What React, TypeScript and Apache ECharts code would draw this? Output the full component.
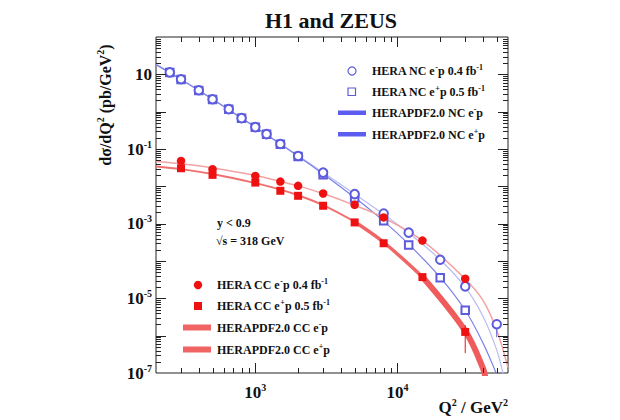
import React, { useEffect, useRef } from 'react';
import * as echarts from 'echarts';

// ---- data: NC (neutral current) measurements ----
const ncEmQ2 = [250, 300, 400, 500, 650, 800, 1000, 1200, 1500, 2000, 3000, 5000, 8000, 12000, 20000, 30000, 50000];
const ncEmValues = [11.3, 7.36, 3.74, 2.15, 1.17, 0.671, 0.386, 0.251, 0.136, 0.065, 0.0233, 0.0062, 0.00188, 5.75e-4, 1.08e-4, 2.09e-5, 2.03e-6];
const ncEpQ2 = [250, 300, 400, 500, 650, 800, 1000, 1200, 1500, 2000, 3000, 5000, 8000, 12000, 20000, 30000];
const ncEpValues = [11.2, 7.3, 3.7, 2.13, 1.16, 0.665, 0.382, 0.248, 0.134, 0.063, 0.0203, 0.00484, 0.0012, 2.7e-4, 3.56e-5, 4.8e-6];

// ---- data: CC (charged current) measurements ----
const ccQ2 = [300, 500, 1000, 1500, 2000, 3000, 5000, 8000, 15000, 30000];
const ccEmValues = [0.0479, 0.0288, 0.019, 0.0134, 0.0103, 0.00643, 0.00321, 0.00147, 3.52e-4, 3.35e-5];
const ccEpValues = [0.0305, 0.0203, 0.0126, 0.0076, 0.00558, 0.00302, 0.00108, 2.99e-4, 3.7e-5, 1.26e-6];

// error bars [Q2, low, high]
const ncEmErrors = [[50000, 9.1e-7, 2.75e-6]];
const ccEpErrors = [[30000, 3.4e-7, 1.9e-6]];

// ---- HERAPDF2.0 predictions ----
const ncEmCurveQ2 = [200, 300, 500, 1000, 2000, 3000, 5000, 8000, 12000, 20000, 30000, 40000, 50000, 56000];
const ncEmCurve = [18.5, 7.4, 2.2, 0.39, 0.066, 0.0235, 0.0062, 0.0018, 5.6e-4, 1.08e-4, 2.0e-5, 3.3e-6, 4.1e-7, 8e-8];
const ncEpCurveQ2 = [200, 300, 500, 1000, 2000, 3000, 5000, 8000, 12000, 20000, 30000, 40000, 50000];
const ncEpCurve = [18.2, 7.3, 2.15, 0.38, 0.064, 0.0215, 0.005, 0.00117, 2.82e-4, 3.65e-5, 4.8e-6, 6.4e-7, 9.1e-8];
const ccEmCurveQ2 = [200, 300, 500, 1000, 1500, 2000, 3000, 5000, 8000, 15000, 30000, 40000, 50000, 60000];
const ccEmCurve = [0.046, 0.04, 0.031, 0.0195, 0.0135, 0.0103, 0.0064, 0.0031, 0.00145, 3.5e-4, 3.3e-5, 8.8e-6, 1.4e-6, 1.4e-7];
const ccEpCurveQ2 = [200, 300, 500, 1000, 1500, 2000, 3000, 5000, 8000, 15000, 30000, 40000, 42000];
const ccEpCurve = [0.034, 0.0289, 0.0213, 0.0122, 0.00815, 0.00577, 0.00314, 0.00113, 3.18e-4, 3.75e-5, 1.34e-6, 1.34e-7, 6e-8];

// ---- axis ticks ----
const tickMultipliers = [2, 3, 4, 5, 6, 7, 8, 9];
const xDecades = [100, 1000, 10000];
const xMajorTicks = [1000, 10000];
const yDecades = [1e-7, 1e-6, 1e-5, 1e-4, 1e-3, 1e-2, 1e-1, 1, 10];
const yMajorTicks = [1e-6, 1e-5, 1e-4, 1e-3, 1e-2, 1e-1, 1, 10];

const X_MIN = 200;
const X_MAX = 60000;
const Y_MIN = 1e-7;
const Y_MAX = 100;

const FONT = "'Liberation Serif', 'Times New Roman', serif";
const BLUE = '#5c5cdc';
const RED = '#ee1111';

const pairs = (xs: number[], ys: number[]) => xs.map((x, i) => [x, ys[i]]);

export default function App() {
  const ref = useRef<HTMLDivElement>(null);

  useEffect(() => {
    const chart = echarts.init(ref.current!, null, { renderer: 'svg' });

    const xTickData: number[][] = [];
    xMajorTicks.forEach((q) => xTickData.push([q, 1, 10]));
    xDecades.forEach((d) =>
      tickMultipliers.forEach((m) => {
        const q = m * d;
        if (q > X_MIN && q < X_MAX) xTickData.push([q, 1, 5]);
      })
    );
    const yTickData: number[][] = [];
    yMajorTicks.forEach((v) => yTickData.push([1000, v, 10]));
    yDecades.forEach((d) =>
      tickMultipliers.forEach((m) => {
        const v = m * d;
        if (v > Y_MIN && v < Y_MAX) yTickData.push([1000, v, 5]);
      })
    );

    const tickStyle = { stroke: '#222', lineWidth: 1 };

    const axisRich = {
      b: { fontSize: 17, fontWeight: 'bold', fontFamily: FONT, color: '#111', lineHeight: 20 },
      s: { fontSize: 10, fontWeight: 'bold', fontFamily: FONT, color: '#111', verticalAlign: 'top', lineHeight: 11 },
    };

    const textRich = {
      a: { fontSize: 12, fontWeight: 'bold', fontFamily: FONT, fill: '#111', lineHeight: 15 },
      s: { fontSize: 8, fontWeight: 'bold', fontFamily: FONT, fill: '#111', verticalAlign: 'top', lineHeight: 9 },
    };

    const lineSeries = (data: number[][], color: string, width: number, z = 2) => ({
      type: 'line',
      data,
      showSymbol: false,
      symbol: 'none',
      smooth: 0.35,
      silent: true,
      z,
      lineStyle: { color, width },
    });

    const ccEpAll = pairs(ccEpCurveQ2, ccEpCurve);
    const ccEpThin = ccEpAll.filter((p) => p[0] <= 5000);
    const ccEpMid = ccEpAll.filter((p) => p[0] >= 5000 && p[0] <= 15000);
    const ccEpThick = ccEpAll.filter((p) => p[0] >= 15000);

    const errorSeries = (data: number[][], color: string) => ({
      type: 'custom',
      data,
      silent: true,
      z: 4,
      encode: { x: 0, y: [1, 2] },
      renderItem: (params: any, api: any) => {
        const p1 = api.coord([api.value(0), api.value(1)]);
        const p2 = api.coord([api.value(0), api.value(2)]);
        return {
          type: 'line',
          shape: { x1: p1[0], y1: p1[1], x2: p2[0], y2: p2[1] },
          style: { stroke: color, lineWidth: 1 },
        };
      },
    });

    const legendItems: any[] = [
      // NC legend
      { type: 'circle', shape: { cx: 352, cy: 71, r: 4 }, style: { fill: 'none', stroke: BLUE, lineWidth: 1.2 } },
      { type: 'rect', shape: { x: 348, y: 88, width: 7.5, height: 7.5 }, style: { fill: 'none', stroke: BLUE, lineWidth: 1.2 } },
      { type: 'rect', shape: { x: 338, y: 110.5, width: 28, height: 4.5 }, style: { fill: '#5c5cf0' } },
      { type: 'rect', shape: { x: 338, y: 132, width: 28, height: 4.5 }, style: { fill: '#5c5cf0' } },
      { type: 'text', x: 372, y: 71, style: { text: '{a|HERA NC e}{s|-}{a|p 0.4 fb}{s|-1}', rich: textRich, align: 'left', verticalAlign: 'middle' } },
      { type: 'text', x: 372, y: 92, style: { text: '{a|HERA NC e}{s|+}{a|p 0.5 fb}{s|-1}', rich: textRich, align: 'left', verticalAlign: 'middle' } },
      { type: 'text', x: 372, y: 113, style: { text: '{a|HERAPDF2.0 NC e}{s|-}{a|p}', rich: textRich, align: 'left', verticalAlign: 'middle' } },
      { type: 'text', x: 372, y: 134.5, style: { text: '{a|HERAPDF2.0 NC e}{s|+}{a|p}', rich: textRich, align: 'left', verticalAlign: 'middle' } },
      // CC legend
      { type: 'circle', shape: { cx: 198, cy: 285, r: 4.2 }, style: { fill: RED } },
      { type: 'rect', shape: { x: 194, y: 302, width: 8, height: 8 }, style: { fill: RED } },
      { type: 'rect', shape: { x: 183, y: 324.5, width: 28, height: 6 }, style: { fill: '#f06464' } },
      { type: 'rect', shape: { x: 183, y: 346.5, width: 28, height: 6 }, style: { fill: '#f06464' } },
      { type: 'text', x: 217, y: 285, style: { text: '{a|HERA CC e}{s|-}{a|p 0.4 fb}{s|-1}', rich: textRich, align: 'left', verticalAlign: 'middle' } },
      { type: 'text', x: 217, y: 306, style: { text: '{a|HERA CC e}{s|+}{a|p 0.5 fb}{s|-1}', rich: textRich, align: 'left', verticalAlign: 'middle' } },
      { type: 'text', x: 217, y: 327.5, style: { text: '{a|HERAPDF2.0 CC e}{s|-}{a|p}', rich: textRich, align: 'left', verticalAlign: 'middle' } },
      { type: 'text', x: 217, y: 349.5, style: { text: '{a|HERAPDF2.0 CC e}{s|+}{a|p}', rich: textRich, align: 'left', verticalAlign: 'middle' } },
      // annotations
      { type: 'text', x: 217, y: 223, style: { text: '{a|y < 0.9}', rich: textRich, align: 'left', verticalAlign: 'middle' } },
      { type: 'text', x: 216, y: 241, style: { text: '{a|\u221As = 318 GeV}', rich: textRich, align: 'left', verticalAlign: 'middle' } },
      // title
      { type: 'text', x: 331, y: 20, style: { text: 'H1 and ZEUS', fontSize: 22, fontWeight: 'bold', fontFamily: FONT, fill: '#111', align: 'center', verticalAlign: 'middle' } },
      // y-axis name
      {
        type: 'text', x: 105, y: 105, rotation: Math.PI / 2,
        style: {
          text: '{a|d\u03C3/dQ}{s|2}{a| (pb/GeV}{s|2}{a|)}',
          rich: {
            a: { fontSize: 16, fontWeight: 'bold', fontFamily: FONT, fill: '#111', lineHeight: 19 },
            s: { fontSize: 10, fontWeight: 'bold', fontFamily: FONT, fill: '#111', verticalAlign: 'top', lineHeight: 11 },
          },
          align: 'center', verticalAlign: 'middle',
        },
      },
      // x-axis name
      {
        type: 'text', x: 508, y: 407,
        style: {
          text: '{a|Q}{s|2}{a| / GeV}{s|2}',
          rich: {
            a: { fontSize: 17, fontWeight: 'bold', fontFamily: FONT, fill: '#111', lineHeight: 20 },
            s: { fontSize: 10, fontWeight: 'bold', fontFamily: FONT, fill: '#111', verticalAlign: 'top', lineHeight: 11 },
          },
          align: 'right', verticalAlign: 'middle',
        },
      },
    ];

    const option: any = {
      animation: false,
      backgroundColor: '#fff',
      grid: { left: 156, right: 112, top: 37, bottom: 47, show: true, borderColor: '#222', borderWidth: 1, backgroundColor: 'transparent' },
      xAxis: {
        type: 'log', logBase: 10, min: X_MIN, max: X_MAX,
        axisLine: { show: false }, axisTick: { show: false }, splitLine: { show: false },
        axisLabel: {
          margin: 9,
          rich: axisRich,
          formatter: (v: number) => {
            const e = Math.log10(v);
            if (Math.abs(e - Math.round(e)) > 1e-6) return '';
            return `{b|10}{s|${Math.round(e)}}`;
          },
        },
      },
      yAxis: {
        type: 'log', logBase: 10, min: Y_MIN, max: Y_MAX,
        axisLine: { show: false }, axisTick: { show: false }, splitLine: { show: false },
        axisLabel: {
          margin: 4,
          rich: axisRich,
          formatter: (v: number) => {
            const e = Math.log10(v);
            if (Math.abs(e - Math.round(e)) > 1e-6) return '';
            const n = Math.round(e);
            if (Math.abs(n) % 2 !== 1) return '';
            return n === 1 ? '{b|10}' : `{b|10}{s|${n}}`;
          },
        },
      },
      graphic: { elements: legendItems },
      series: [
        lineSeries(pairs(ncEmCurveQ2, ncEmCurve), '#b8bcf2', 1.2),
        lineSeries(pairs(ncEpCurveQ2, ncEpCurve), '#7a80e8', 1.2),
        lineSeries(pairs(ccEmCurveQ2, ccEmCurve), '#f3a2a2', 1.5),
        lineSeries(ccEpThin, '#f07070', 2),
        lineSeries(ccEpMid, '#f06666', 3.5),
        lineSeries(ccEpThick, '#f05c5c', 6),
        errorSeries(ncEmErrors, BLUE),
        errorSeries(ccEpErrors, RED),
        {
          type: 'scatter', data: pairs(ncEpQ2, ncEpValues), symbol: 'emptyRect', symbolSize: 7.5, z: 5, silent: true,
          itemStyle: { color: BLUE, borderColor: BLUE, borderWidth: 1.2, opacity: 1 },
        },
        {
          type: 'scatter', data: pairs(ncEmQ2, ncEmValues), symbol: 'emptyCircle', symbolSize: 8.5, z: 5, silent: true,
          itemStyle: { color: BLUE, borderColor: BLUE, borderWidth: 1.2, opacity: 1 },
        },
        {
          type: 'scatter', data: pairs(ccQ2, ccEpValues), symbol: 'rect', symbolSize: 8, z: 6, silent: true,
          itemStyle: { color: RED, opacity: 1 },
        },
        {
          type: 'scatter', data: pairs(ccQ2, ccEmValues), symbol: 'circle', symbolSize: 8.5, z: 6, silent: true,
          itemStyle: { color: RED, opacity: 1 },
        },
        {
          type: 'custom', data: xTickData, silent: true, z: 10, clip: false,
          renderItem: (params: any, api: any) => {
            const p = api.coord([api.value(0), api.value(1)]);
            const len = api.value(2);
            const cs = params.coordSys;
            const top = cs.y;
            const bottom = cs.y + cs.height;
            const x = Math.round(p[0]) + 0.5;
            return {
              type: 'group',
              children: [
                { type: 'line', shape: { x1: x, y1: bottom, x2: x, y2: bottom - len }, style: tickStyle },
                { type: 'line', shape: { x1: x, y1: top, x2: x, y2: top + len }, style: tickStyle },
              ],
            };
          },
        },
        {
          type: 'custom', data: yTickData, silent: true, z: 10, clip: false,
          renderItem: (params: any, api: any) => {
            const p = api.coord([api.value(0), api.value(1)]);
            const len = api.value(2);
            const cs = params.coordSys;
            const left = cs.x;
            const right = cs.x + cs.width;
            const y = Math.round(p[1]) + 0.5;
            return {
              type: 'group',
              children: [
                { type: 'line', shape: { x1: left, y1: y, x2: left + len, y2: y }, style: tickStyle },
                { type: 'line', shape: { x1: right, y1: y, x2: right - len, y2: y }, style: tickStyle },
              ],
            };
          },
        },
      ],
    };

    chart.setOption(option);
    return () => chart.dispose();
  }, []);

  return (
    <div
      ref={ref}
      style={{ position: 'fixed', left: 0, top: 0, width: 620, height: 420, background: '#fff' }}
    />
  );
}
